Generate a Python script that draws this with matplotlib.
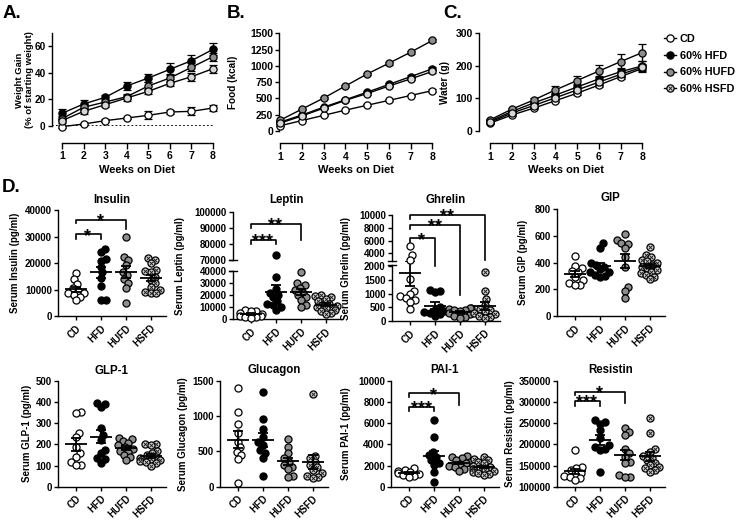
import numpy as np
import matplotlib
matplotlib.use('Agg')
import matplotlib.pyplot as plt
import matplotlib.patheffects as pe
from matplotlib import font_manager
from matplotlib.lines import Line2D

# ---------------- data ----------------
weeks = [1, 2, 3, 4, 5, 6, 7, 8]
groups = ['CD', 'HFD', 'HUFD', 'HSFD']
legend_labels = ['CD', '60% HFD', '60% HUFD', '60% HSFD']

# weight gain (% of starting weight), mean and SEM
wg_cd = [-0.5, 1.5, 4, 6, 8, 10.5, 11, 13.5]
wg_hfd = [9.5, 16.5, 21.5, 30, 36, 42.5, 49, 57.5]
wg_hufd = [5.5, 14, 18, 22, 30, 36, 44, 52]
wg_hsfd = [4, 11, 16, 21, 26, 32, 37, 43]
wg_cd_sem = [1, 1, 1, 1, 3, 1.5, 3, 2.5]
wg_hfd_sem = [3, 3, 2, 3, 3, 4.5, 4, 4.5]
wg_hufd_sem = [2, 2, 2, 2, 3, 3, 3, 3]
wg_hsfd_sem = [1.5, 2, 2, 2, 2, 2, 3, 3]

# cumulative food intake (kcal)
food_cd = [80, 160, 240, 320, 395, 470, 545, 620]
food_hfd = [135, 245, 365, 480, 595, 715, 835, 955]
food_hufd = [165, 335, 505, 690, 875, 1040, 1210, 1390]
food_hsfd = [120, 230, 350, 470, 575, 690, 800, 915]
food_cd_sem = [4, 6, 8, 10, 12, 14, 15, 18]
food_hfd_sem = [5, 8, 10, 12, 15, 18, 20, 22]
food_hufd_sem = [6, 10, 14, 16, 18, 20, 22, 25]
food_hsfd_sem = [5, 8, 10, 12, 15, 18, 20, 22]

# cumulative water intake (g)
water_cd = [24, 49, 70, 93, 116, 141, 167, 192]
water_hfd = [30, 60, 86, 110, 135, 160, 182, 200]
water_hufd = [34, 67, 95, 126, 155, 184, 213, 241]
water_hsfd = [27, 55, 78, 102, 126, 150, 174, 196]
water_cd_sem = [2, 3, 3, 4, 5, 6, 8, 10]
water_hfd_sem = [2, 3, 4, 6, 8, 10, 12, 15]
water_hufd_sem = [3, 4, 6, 12, 14, 19, 22, 25]
water_hsfd_sem = [2, 3, 4, 5, 6, 8, 9, 10]

# serum hormones (pg/ml), one list per group: CD, HFD, HUFD, HSFD
insulin = [
    [16300, 13800, 12000, 10500, 9500, 8800, 8500, 8000, 7300, 6000],
    [25300, 24000, 21500, 20800, 18500, 16500, 14500, 11500, 6000, 6000],
    [30000, 22400, 21000, 19200, 16700, 15500, 13800, 12300, 10400, 5000],
    [21800, 21000, 19900, 17400, 16800, 16600, 14800, 13600, 12300, 11000, 10000, 9200, 8500, 8500],
]
leptin = [
    [8000, 7000, 6500, 5000, 4000, 3000, 2500, 2000, 1500, 1000],
    [73000, 35000, 25000, 22000, 20000, 18000, 15000, 13000, 12000, 10000, 8000],
    [39000, 30000, 28000, 26000, 24000, 22000, 20000, 18000, 16000, 12000, 10000],
    [20000, 19000, 18000, 17000, 15000, 13000, 12000, 11000, 10000, 9000, 8000, 7000, 5000, 4000],
]
ghrelin = [
    [5140, 3740, 2950, 1540, 1100, 1000, 900, 850, 780, 700, 450],
    [1150, 1100, 1050, 500, 420, 380, 320, 300, 250, 200],
    [480, 460, 440, 420, 400, 350, 300, 250, 200, 150, 120],
    [1800, 1100, 800, 600, 450, 400, 350, 300, 250, 200, 150, 120],
]
gip = [
    [450, 375, 360, 340, 330, 295, 270, 245, 235, 235],
    [545, 510, 400, 385, 370, 350, 330, 330, 310, 300, 290],
    [612, 570, 545, 540, 510, 440, 370, 220, 185, 135],
    [520, 460, 440, 420, 410, 400, 385, 370, 360, 345, 330, 320, 310, 295, 275],
]
glp1 = [
    [354, 350, 252, 233, 189, 157, 142, 118, 102, 102],
    [393, 388, 374, 275, 244, 220, 173, 157, 134, 130, 113],
    [230, 225, 215, 205, 195, 185, 180, 170, 165, 150, 140, 125],
    [200, 200, 195, 170, 160, 150, 140, 135, 130, 125, 120, 115, 110, 100],
]
glucagon = [
    [1391, 1052, 887, 755, 637, 557, 495, 448, 387, 57],
    [1335, 953, 811, 708, 637, 590, 519, 472, 401, 151],
    [670, 557, 472, 401, 354, 307, 283, 245, 151, 142],
    [1307, 434, 401, 354, 307, 274, 236, 189, 151, 132, 118],
]
pai1 = [
    [1800, 1600, 1500, 1400, 1300, 1200, 1100, 1000, 900],
    [6290, 4650, 3300, 2990, 2830, 2520, 2200, 2040, 1415, 470],
    [2900, 2800, 2700, 2500, 2300, 2200, 2100, 2000, 1900, 1700, 1500],
    [2800, 2600, 2500, 2300, 2200, 2000, 1900, 1800, 1700, 1600, 1500, 1400, 1300, 1200, 1100],
]
resistin = [
    [186500, 147000, 143000, 139000, 133000, 130000, 125000, 124000, 120000, 116000],
    [257000, 253000, 249000, 234000, 214000, 198000, 194000, 188000, 186000, 135000],
    [238000, 230000, 222000, 190000, 179000, 171000, 159000, 155000, 128000, 124000, 124000],
    [261000, 227000, 188000, 183000, 172000, 167000, 163000, 155000, 151000, 147000, 143000, 139000, 135000],
]

# significance brackets: (group a, group b, bar height, leg a end, leg b end, label)
insulin_sig = [(0, 1, 30800, 29000, 29000, '*'), (0, 2, 36200, 35000, 32700, '*')]
leptin_sig = [(0, 1, 82600, 80000, 80000, '***'), (0, 2, 92600, 89900, 82600, '**')]
ghrelin_sig = [(0, 1, 6340, 5830, 1970, '*'), (0, 2, 8470, 7810, -2450, '**'),
               (0, 3, 10000, 9390, 3030, '**')]
pai1_sig = [(0, 1, 7550, 7170, 7170, '***'), (0, 2, 8800, 8490, 7700, '*')]
resistin_sig = [(0, 1, 302000, 290000, 290000, '***'), (0, 2, 324000, 316000, 297000, '*')]

# ---------------- style ----------------
W, H = 740, 522
fonts = font_manager.fontManager.ttflist
has_narrow = any(f.name == 'Liberation Sans Narrow' for f in fonts)
narrow_bold = any(f.name == 'Liberation Sans Narrow' and
                  (f.weight == 'bold' or (isinstance(f.weight, int) and f.weight >= 600))
                  for f in fonts)
NARROW = 'Liberation Sans Narrow' if has_narrow else 'Liberation Sans'
# thicken the narrow face when no bold cut of it is installed
FX = [] if (narrow_bold or not has_narrow) else [pe.withStroke(linewidth=0.6, foreground='black')]

plt.rcParams['font.family'] = ['Liberation Sans', 'DejaVu Sans']
plt.rcParams['font.weight'] = 'bold'
plt.rcParams['axes.titleweight'] = 'bold'
plt.rcParams['axes.labelweight'] = 'bold'
plt.rcParams['axes.linewidth'] = 1.0

FACE = ['white', 'black', '#8e8e8e', '#d6d6d6']
LW = 1.0

fig = plt.figure(figsize=(W / 100, H / 100), dpi=100)


def px_box(left, top, right, bottom):
    return [left / W, 1 - bottom / H, (right - left) / W, (bottom - top) / H]


def ftext(x, y, s, **kw):
    return fig.text(x / W, 1 - y / H, s, **kw)


def ntext(x, y, s, **kw):
    return ftext(x, y, s, family=NARROW, weight='bold', path_effects=FX, **kw)


def clean(ax):
    for side in ['top', 'right']:
        ax.spines[side].set_visible(False)
    ax.tick_params(width=1.0, length=3, pad=1.5, labelfontfamily=NARROW)


def thicken(labels):
    for t in labels:
        t.set_path_effects(FX)
        t.set_fontweight('bold')


# ---------------- top row: time courses ----------------
def line_panel(box, xlim, ylim, yticks, means, sems, outward, ysize=7.5):
    ax = fig.add_axes(px_box(*box))
    clean(ax)
    for gi in [3, 2, 1, 0]:
        ax.errorbar(weeks, means[gi], yerr=sems[gi], color='black', lw=LW,
                    marker='o', ms=5.2, mfc=FACE[gi], mec='black', mew=0.9,
                    capsize=3, capthick=LW, elinewidth=LW, clip_on=False, zorder=3 + gi)
        if gi == 3:
            ax.plot(weeks, means[gi], ls='none', marker='x', ms=3, mec='#222222',
                    mew=0.7, clip_on=False, zorder=3 + gi)
    ax.set_xlim(*xlim)
    ax.set_ylim(*ylim)
    ax.set_yticks(yticks)
    ax.set_xticks(weeks)
    ax.spines['left'].set_bounds(ylim[0], ylim[1])
    ax.spines['bottom'].set_bounds(1, 8)
    ax.spines['bottom'].set_position(('outward', outward))
    ax.tick_params(axis='x', labelsize=7.5, length=4, pad=2)
    ax.tick_params(axis='y', labelsize=ysize)
    thicken(ax.get_xticklabels() + ax.get_yticklabels())
    mid = box[0] + (box[2] - box[0]) * ((4.5 - xlim[0]) / (xlim[1] - xlim[0]))
    ntext(mid, 170, 'Weeks on Diet', ha='center', va='center', fontsize=8)
    return ax


axA = line_panel((52, 32.7, 220, 126), (0.536, 8.325), (0, 70), [0, 20, 40, 60],
                 [wg_cd, wg_hfd, wg_hufd, wg_hsfd],
                 [wg_cd_sem, wg_hfd_sem, wg_hufd_sem, wg_hsfd_sem], 12, ysize=7.2)
axA.plot([0.536, 8], [0, 0], ls=(0, (1, 1.2)), color='black', lw=1.3, zorder=1)

axB = line_panel((279.3, 33.3, 440, 131), (0.968, 8.35), (0, 1500),
                 [0, 250, 500, 750, 1000, 1250, 1500],
                 [food_cd, food_hfd, food_hufd, food_hsfd],
                 [food_cd_sem, food_hfd_sem, food_hufd_sem, food_hsfd_sem], 8.9)

axC = line_panel((479, 33.3, 650, 131), (0.494, 8.35), (0, 300), [0, 100, 200, 300],
                 [water_cd, water_hfd, water_hufd, water_hsfd],
                 [water_cd_sem, water_hfd_sem, water_hufd_sem, water_hsfd_sem], 8.9)

ftext(24.5, 80, 'Weight Gain\n(% of starting weight)', rotation=90, ha='center',
      va='center', fontsize=6.8, linespacing=1.05)
ftext(233, 82, 'Food (kcal)', rotation=90, ha='center', va='center', fontsize=7.2)
ftext(445, 82, 'Water (g)', rotation=90, ha='center', va='center', fontsize=7.2)

handles = []
for gi in range(4):
    h = Line2D([], [], color='black', lw=LW, marker='o', ms=5.2, mfc=FACE[gi],
               mec='black', mew=0.9)
    if gi == 3:
        h = (h, Line2D([], [], ls='none', marker='x', ms=3, mec='#222222', mew=0.7))
    handles.append(h)
leg = fig.legend(handles, legend_labels, loc='upper left',
                 bbox_to_anchor=(664 / W, 1 - 34 / H),
                 frameon=False, handlelength=1.1, handletextpad=0.35, labelspacing=0.62,
                 borderpad=0, borderaxespad=0,
                 prop=dict(family=NARROW, size=7.8, weight='bold'))
thicken(leg.get_texts())

# ---------------- bottom rows: serum hormones ----------------
XLIM = (-0.7, 3.6)
DIAM = 5.6
MAXOFF = 11.0


def swarm(ypx, d):
    xs = np.zeros(len(ypx))
    placed = []
    for i in np.argsort(ypx):
        y = ypx[i]
        cands = [0.0]
        for px, py in placed:
            dy = abs(py - y)
            if dy < d:
                dx = np.sqrt(d * d - dy * dy)
                cands += [px + dx, px - dx]
        cands = [c for c in cands if abs(c) <= MAXOFF]
        cands.sort(key=abs)
        best = None
        for c in cands:
            if all((c - px) ** 2 + (y - py) ** 2 >= d * d - 1e-6 for px, py in placed):
                best = c
                break
        if best is None:
            # no free slot inside the allowed width: take the least crowded edge
            best = MAXOFF if sum(px for px, py in placed if abs(py - y) < d) < 0 else -MAXOFF
        xs[i] = best
        placed.append((best, y))
    return xs


def make_axes(box, ylim, yticks, show_x=True):
    ax = fig.add_axes(px_box(*box))
    clean(ax)
    ax.set_xlim(*XLIM)
    ax.set_ylim(*ylim)
    ax.set_yticks(yticks)
    ax.tick_params(axis='y', labelsize=7, length=3)
    if show_x:
        ax.set_xticks(range(4))
        ax.set_xticklabels(groups, rotation=45, ha='right', rotation_mode='anchor',
                           fontsize=7, family='Liberation Sans', weight='bold')
        ax.tick_params(axis='x', length=3, pad=2)
    else:
        ax.spines['bottom'].set_visible(False)
        ax.set_xticks([])
    thicken(ax.get_yticklabels())
    return ax


def scatter_panel(axes, data, title, ylabel, label_x, title_y, sig):
    lower, upper = axes[0], axes[-1]
    ppu = lower.transData.transform((1, 0))[0] - lower.transData.transform((0, 0))[0]
    for gi, vals in enumerate(data):
        vals = np.asarray(vals, float)
        owner = []
        ypx = []
        for v in vals:
            host = lower
            for a in axes:
                lo, hi = a.get_ylim()
                if lo <= v <= hi:
                    host = a
            owner.append(host)
            ypx.append(host.transData.transform((0, v))[1])
        xs = gi + swarm(np.array(ypx), DIAM) / ppu
        for a in axes:
            m = np.array([o is a for o in owner])
            if not m.any():
                continue
            a.scatter(xs[m], vals[m], s=26, facecolor=FACE[gi], edgecolor='black',
                      linewidths=0.9, zorder=3, clip_on=False)
            if gi == 3:
                a.scatter(xs[m], vals[m], s=8, marker='x', color='#222222',
                          linewidths=0.7, zorder=3.5, clip_on=False)
        mean = vals.mean()
        sem = vals.std(ddof=1) / np.sqrt(len(vals))
        kw = dict(color='black', lw=1.3, zorder=5, clip_on=False, solid_capstyle='butt')
        lower.plot([gi - 0.44, gi + 0.44], [mean, mean], **kw)
        lower.plot([gi, gi], [mean - sem, mean + sem], **kw)
        lower.plot([gi - 0.2, gi + 0.2], [mean - sem] * 2, **kw)
        lower.plot([gi - 0.2, gi + 0.2], [mean + sem] * 2, **kw)
    for g1, g2, y, l1, l2, lab in sig:
        upper.plot([g1, g1, g2, g2], [l1, y, y, l2], color='black', lw=1.2,
                   clip_on=False, zorder=6)
        upper.annotate(lab, ((g1 + g2) / 2, y), xytext=(0, -4.6), textcoords='offset points',
                       ha='center', va='baseline', fontsize=13, annotation_clip=False)
    x0 = upper.transAxes.transform((0, 0))[0]
    x1 = upper.transAxes.transform((1, 0))[0]
    ntext((x0 + x1) / 2, title_y, title, ha='center', va='center', fontsize=8.3)
    b0 = fig.transFigure.inverted().transform(upper.transAxes.transform((0, 1)))[1]
    b1 = fig.transFigure.inverted().transform(lower.transAxes.transform((0, 0)))[1]
    fig.text(label_x / W, (b0 + b1) / 2, ylabel, rotation=90, ha='center', va='center',
             fontsize=7)


def break_marks(ax, y):
    ax.plot([-0.035, 0.035], [y, y], transform=ax.transAxes, color='black', lw=1.0,
            clip_on=False)


# Insulin
ax = make_axes((58, 210, 165.5, 316), (0, 40000), range(0, 40001, 10000))
scatter_panel([ax], insulin, 'Insulin', 'Serum Insulin (pg/ml)', 15, 200, insulin_sig)

# Leptin (broken axis)
lo = make_axes((233, 270.7, 340.5, 319.3), (0, 40000), range(0, 40001, 10000))
up = make_axes((233, 212.3, 340.5, 260), (70000, 100000), range(70000, 100001, 10000),
               show_x=False)
break_marks(lo, 1.0)
break_marks(up, 0.0)
scatter_panel([lo, up], leptin, 'Leptin', 'Serum Leptin (pg/ml)', 180, 200, leptin_sig)

# Ghrelin (broken axis)
lo = make_axes((392, 265.3, 499.5, 321), (0, 2040), range(0, 2001, 500))
up = make_axes((392, 215, 499.5, 261), (2800, 10000), range(4000, 10001, 2000),
               show_x=False)
break_marks(lo, 1.0)
break_marks(up, 0.0)
scatter_panel([lo, up], ghrelin, 'Ghrelin', 'Serum Ghrelin (pg/ml)', 346, 200, ghrelin_sig)

# GIP
ax = make_axes((557, 209.3, 664.5, 316), (0, 800), range(0, 801, 200))
scatter_panel([ax], gip, 'GIP', 'Serum GIP (pg/ml)', 523, 198, [])

# GLP-1
ax = make_axes((58, 380.7, 165.5, 486.7), (0, 500), range(0, 501, 100))
scatter_panel([ax], glp1, 'GLP-1', 'Serum GLP-1 (pg/ml)', 27, 371, [])

# Glucagon
ax = make_axes((220, 380.7, 327.5, 486.7), (0, 1500), range(0, 1501, 500))
scatter_panel([ax], glucagon, 'Glucagon', 'Serum Glucagon (pg/ml)', 183, 370, [])

# PAI-1
ax = make_axes((391, 380.7, 498.5, 486.7), (0, 10000), range(0, 10001, 2000))
scatter_panel([ax], pai1, 'PAI-1', 'Serum PAI-1 (pg/ml)', 346, 370, pai1_sig)

# Resistin
ax = make_axes((557, 380.7, 664.5, 486.7), (100000, 350000), range(100000, 350001, 50000))
scatter_panel([ax], resistin, 'Resistin', 'Serum Resistin (pg/ml)', 510, 370, resistin_sig)

# panel letters
for x, y, s in [(3, 14, 'A.'), (227, 14, 'B.'), (443, 14, 'C.'), (2, 187, 'D.')]:
    ntext(x, y, s, ha='left', va='center', fontsize=13.5)

fig.savefig('out.png', dpi=100)
